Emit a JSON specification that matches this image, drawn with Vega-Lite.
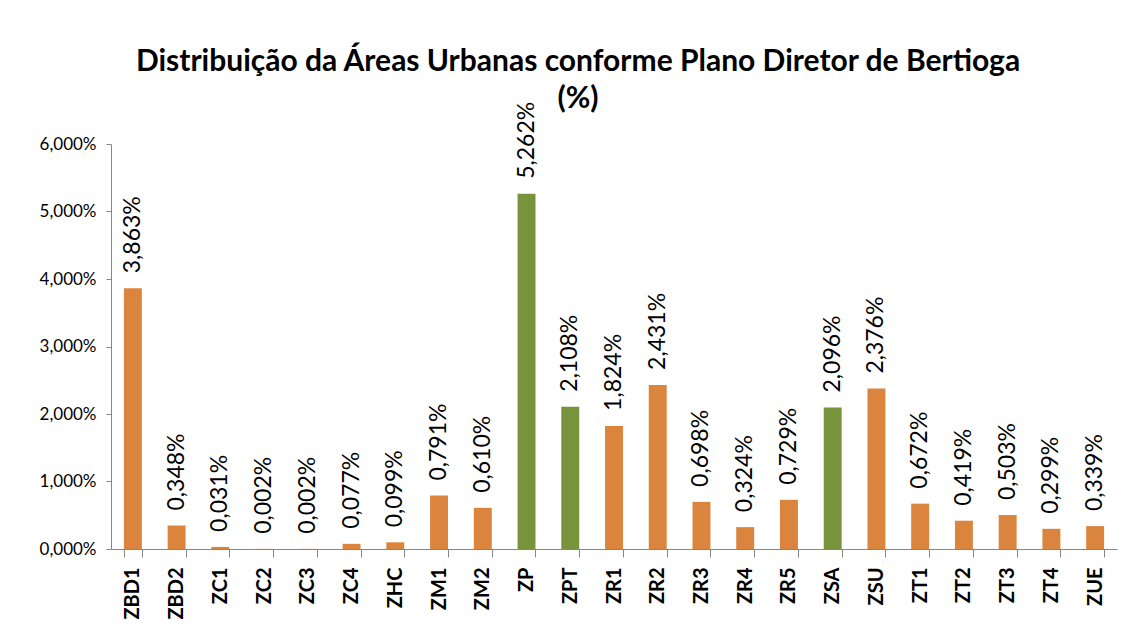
{
  "$schema": "https://vega.github.io/schema/vega-lite/v6.json",
  "width": 1006,
  "height": 405,
  "autosize": {"type": "none"},
  "padding": {"left": 111, "top": 144, "right": 15, "bottom": 84},
  "background": "white",
  "config": {
    "font": "Lato",
    "view": {"stroke": null},
    "locale": {"number": {"decimal": ",", "thousands": ".", "grouping": [3], "currency": ["", ""], "percent": "%"}}
  },
  "title": {
    "text": ["Distribuição da Áreas Urbanas conforme Plano Diretor de Bertioga", "(%)"],
    "font": "Lato",
    "fontSize": 30,
    "fontWeight": "bold",
    "color": "#000000",
    "anchor": "middle",
    "frame": "group",
    "dx": -36,
    "lineHeight": 37,
    "offset": -12
  },
  "data": {
    "values": [
      {"zona": "ZBD1", "valor": 0.03863, "grupo": "urbana"},
      {"zona": "ZBD2", "valor": 0.00348, "grupo": "urbana"},
      {"zona": "ZC1", "valor": 0.00031, "grupo": "urbana"},
      {"zona": "ZC2", "valor": 0.00002, "grupo": "urbana"},
      {"zona": "ZC3", "valor": 0.00002, "grupo": "urbana"},
      {"zona": "ZC4", "valor": 0.00077, "grupo": "urbana"},
      {"zona": "ZHC", "valor": 0.00099, "grupo": "urbana"},
      {"zona": "ZM1", "valor": 0.00791, "grupo": "urbana"},
      {"zona": "ZM2", "valor": 0.0061, "grupo": "urbana"},
      {"zona": "ZP", "valor": 0.05262, "grupo": "protecao"},
      {"zona": "ZPT", "valor": 0.02108, "grupo": "protecao"},
      {"zona": "ZR1", "valor": 0.01824, "grupo": "urbana"},
      {"zona": "ZR2", "valor": 0.02431, "grupo": "urbana"},
      {"zona": "ZR3", "valor": 0.00698, "grupo": "urbana"},
      {"zona": "ZR4", "valor": 0.00324, "grupo": "urbana"},
      {"zona": "ZR5", "valor": 0.00729, "grupo": "urbana"},
      {"zona": "ZSA", "valor": 0.02096, "grupo": "protecao"},
      {"zona": "ZSU", "valor": 0.02376, "grupo": "urbana"},
      {"zona": "ZT1", "valor": 0.00672, "grupo": "urbana"},
      {"zona": "ZT2", "valor": 0.00419, "grupo": "urbana"},
      {"zona": "ZT3", "valor": 0.00503, "grupo": "urbana"},
      {"zona": "ZT4", "valor": 0.00299, "grupo": "urbana"},
      {"zona": "ZUE", "valor": 0.00339, "grupo": "urbana"}
    ]
  },
  "encoding": {
    "x": {
      "field": "zona",
      "type": "nominal",
      "sort": null,
      "scale": {"paddingInner": 0.59, "paddingOuter": 0.295},
      "axis": {
        "title": null,
        "tickBand": "extent",
        "domainColor": "#868686",
        "tickColor": "#868686",
        "tickSize": 8,
        "labelAngle": 270,
        "labelAlign": "right",
        "labelBaseline": "middle",
        "labelFont": "Lato",
        "labelFontSize": 20,
        "labelFontWeight": "bold",
        "labelColor": "#000000",
        "labelPadding": 10
      }
    },
    "y": {
      "field": "valor",
      "type": "quantitative",
      "scale": {"domain": [0, 0.06], "nice": false},
      "axis": {
        "title": null,
        "values": [0, 0.01, 0.02, 0.03, 0.04, 0.05, 0.06],
        "format": ".3%",
        "grid": false,
        "domainColor": "#868686",
        "tickColor": "#868686",
        "tickSize": 5,
        "labelFont": "Lato",
        "labelFontSize": 17,
        "labelColor": "#000000",
        "labelPadding": 10
      }
    }
  },
  "layer": [
    {
      "mark": {"type": "bar"},
      "encoding": {
        "color": {
          "field": "grupo",
          "type": "nominal",
          "scale": {"domain": ["urbana", "protecao"], "range": ["#DB843D", "#77933C"]},
          "legend": null
        }
      }
    },
    {
      "mark": {"type": "text", "angle": 270, "align": "left", "baseline": "middle", "dx": 15, "font": "Lato", "fontSize": 23, "color": "#000000"},
      "encoding": {
        "text": {"field": "valor", "type": "quantitative", "format": ".3%"}
      }
    }
  ]
}
